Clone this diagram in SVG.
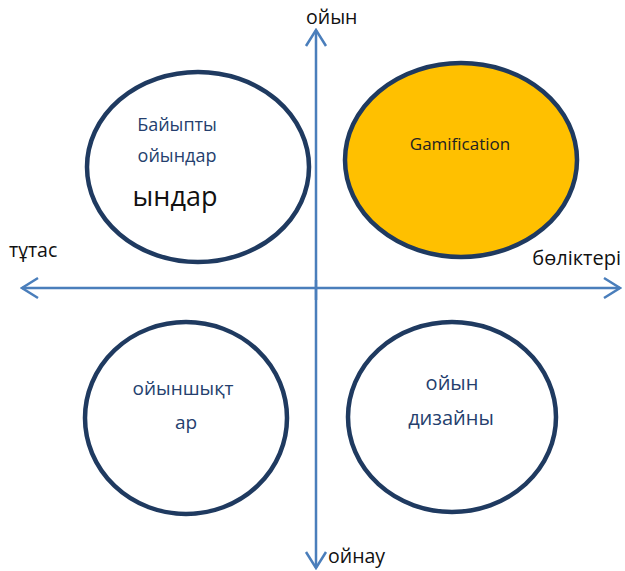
<svg xmlns="http://www.w3.org/2000/svg" width="625" height="571" viewBox="0 0 625 571">
<style>
.ax{stroke:#4a7ebb;stroke-width:2.5;fill:none}
.node{stroke:#1f3a60;stroke-width:4.5}
.t{font-family:"Open Sans","Noto Sans",sans-serif;font-size:18px;fill:#253f6e;text-anchor:middle}
.lb{font-family:"Open Sans","Noto Sans",sans-serif;font-size:19.5px;fill:#111}
</style>
<defs>
<marker id="ah" viewBox="0 0 20 24" refX="18" refY="12" markerWidth="20" markerHeight="24" markerUnits="userSpaceOnUse" orient="auto">
<path d="M2,2 L18,12 L2,22" fill="none" stroke="#4a7ebb" stroke-width="2.5"/>
</marker>
</defs>
<rect width="625" height="571" fill="#fff"/>
<g id="connectors">
<line class="ax" x1="316" y1="300" x2="316" y2="30" marker-end="url(#ah)"/>
<line class="ax" x1="316" y1="280" x2="316" y2="568" marker-end="url(#ah)"/>
<line class="ax" x1="316" y1="288" x2="22" y2="288" marker-end="url(#ah)"/>
<line class="ax" x1="316" y1="288" x2="620" y2="288" marker-end="url(#ah)"/>
</g>
<g id="n1">
<ellipse class="node" cx="198" cy="167" rx="111" ry="95" fill="#fff"/>
<text class="t" x="177" y="131">Байыпты</text>
<text class="t" x="177" y="162">ойындар</text>
<text class="t" x="175" y="206" style="font-size:27px;fill:#111">ындар</text>
</g>
<g id="n2">
<ellipse class="node" cx="461" cy="160" rx="116" ry="97" fill="#ffc000"/>
<text class="t" x="460" y="150" style="font-size:17px;fill:#222">Gamification</text>
</g>
<g id="n3">
<ellipse class="node" cx="186" cy="418" rx="101" ry="96" fill="#fff"/>
<text class="t" x="183" y="395" style="font-size:19px">ойыншықт</text>
<text class="t" x="186" y="429" style="font-size:19px">ар</text>
</g>
<g id="n4">
<ellipse class="node" cx="452" cy="417" rx="104" ry="95" fill="#fff"/>
<text class="t" x="452" y="390" style="font-size:20px">ойын</text>
<text class="t" x="451" y="425" style="font-size:20px">дизайны</text>
</g>
<g id="labels">
<text class="lb" x="306" y="24">ойын</text>
<text class="lb" x="9" y="257">тұтас</text>
<text class="lb" x="621" y="265" style="font-size:20px;text-anchor:end">бөліктері</text>
<text class="lb" x="328" y="563">ойнау</text>
</g>
</svg>
